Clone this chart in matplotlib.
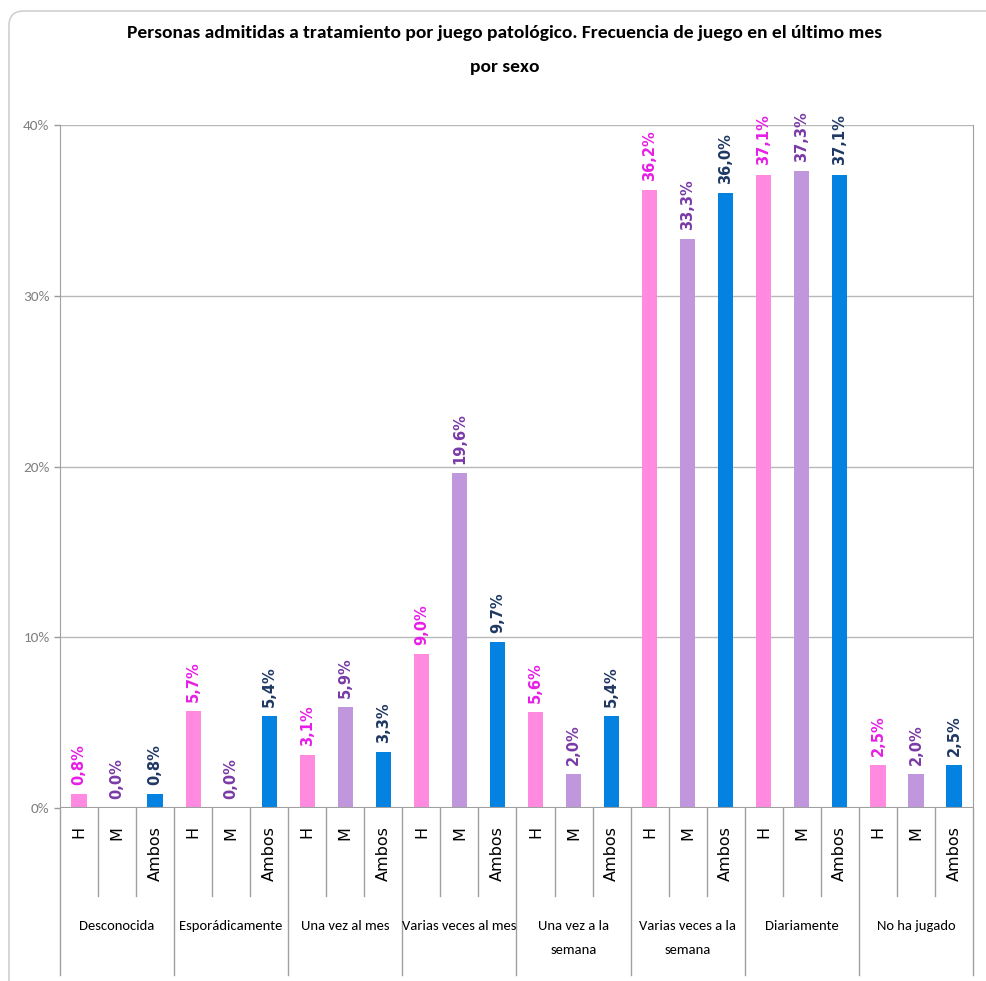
import matplotlib.pyplot as plt
import matplotlib.transforms as mtransforms
from matplotlib.patches import FancyBboxPatch
from matplotlib.ticker import FuncFormatter

# --- data ---
groups = ['Desconocida', 'Esporádicamente', 'Una vez al mes', 'Varias veces al mes',
          'Una vez a la\nsemana', 'Varias veces a la\nsemana', 'Diariamente', 'No ha jugado']
series = ['H', 'M', 'Ambos']
h_vals = [0.8, 5.7, 3.1, 9.0, 5.6, 36.2, 37.1, 2.5]
m_vals = [0.0, 0.0, 5.9, 19.6, 2.0, 33.3, 37.3, 2.0]
ambos_vals = [0.8, 5.4, 3.3, 9.7, 5.4, 36.0, 37.1, 2.5]
yticks = [0, 10, 20, 30, 40]

bar_colors = ['#FF8ADF', '#C097DC', '#0482E2']
label_colors = ['#E81EE6', '#7A3AA6', '#1F3864']
narrow = ['Carlito', 'Roboto Condensed', 'DejaVu Sans']
wide = ['DejaVu Sans']

W, H = 987, 981
fig = plt.figure(figsize=(W / 100, H / 100), dpi=100)


def fy(px):
    return 1 - px / H


# outer frame of the chart object
fig.patches.append(FancyBboxPatch((9 / W, -0.05), 1.1, fy(11) + 0.05,
                                  boxstyle='round,pad=0,rounding_size=0.015',
                                  transform=fig.transFigure, fc='none',
                                  ec='#D0D0D0', lw=1.2, zorder=-1))

left_px, right_px, top_px, zero_px = 60, 973, 125, 808
ax = fig.add_axes([left_px / W, fy(zero_px), (right_px - left_px) / W, (zero_px - top_px) / H])
ax.set_facecolor('none')

all_vals = [h_vals, m_vals, ambos_vals]
n = len(groups)
for s in range(3):
    xs = [g * 3 + s for g in range(n)]
    ax.bar(xs, all_vals[s], width=0.4, color=bar_colors[s], zorder=3)
    for x, v in zip(xs, all_vals[s]):
        ax.annotate(f'{v:.1f}%'.replace('.', ','), (x, v), xytext=(0, 6.5),
                    textcoords='offset points', rotation=90, ha='center', va='bottom',
                    fontsize=10.5, fontweight='bold', color=label_colors[s], family=wide)

ax.set_xlim(-0.5, 3 * n - 0.5)
ax.set_ylim(0, 40)
ax.set_yticks(yticks)
ax.yaxis.set_major_formatter(FuncFormatter(lambda v, p: f'{v:.0f}%'))
ax.tick_params(axis='y', colors='#9A9A9A', labelsize=11, length=4, width=1)
ax.tick_params(axis='y', labelcolor='#808080')
for lbl in ax.get_yticklabels():
    lbl.set_family(narrow)
ax.set_xticks([])
ax.grid(axis='y', color='#B8B8B8', lw=1, zorder=0)
for side in ['top', 'bottom']:
    ax.spines[side].set_visible(False)
ax.spines['left'].set_color('#A0A0A0')
ax.spines['right'].set_color('#A0A0A0')
ax.axhline(0, color='#A0A0A0', lw=1.5, zorder=4)

# multi-level category axis
tr = mtransforms.blended_transform_factory(ax.transData, fig.transFigure)
for g in range(n):
    for s in range(3):
        x = g * 3 + s
        ax.text(x, fy(826), series[s], transform=tr, rotation=90, ha='center', va='top',
                fontsize=11.5, color='black', family=wide)
        if s > 0:
            ax.plot([x - 0.5, x - 0.5], [fy(zero_px), fy(896)], transform=tr,
                    color='#A0A0A0', lw=1, clip_on=False)
    ax.text(g * 3 + 1, fy(920), groups[g], transform=tr, ha='center', va='top',
            fontsize=10.5, family=narrow, linespacing=2.25)
for g in range(n + 1):
    x = g * 3 - 0.5
    ax.plot([x, x], [fy(zero_px), fy(975)], transform=tr, color='#A0A0A0', lw=1, clip_on=False)

fig.text(505 / W, fy(33), 'Personas admitidas a tratamiento por juego patológico. '
         'Frecuencia de juego en el último mes', ha='center', va='center',
         fontsize=14, fontweight='bold', family=narrow)
fig.text(505 / W, fy(67), 'por sexo', ha='center', va='center',
         fontsize=14, fontweight='bold', family=narrow)

fig.savefig('out.png', dpi=100)
